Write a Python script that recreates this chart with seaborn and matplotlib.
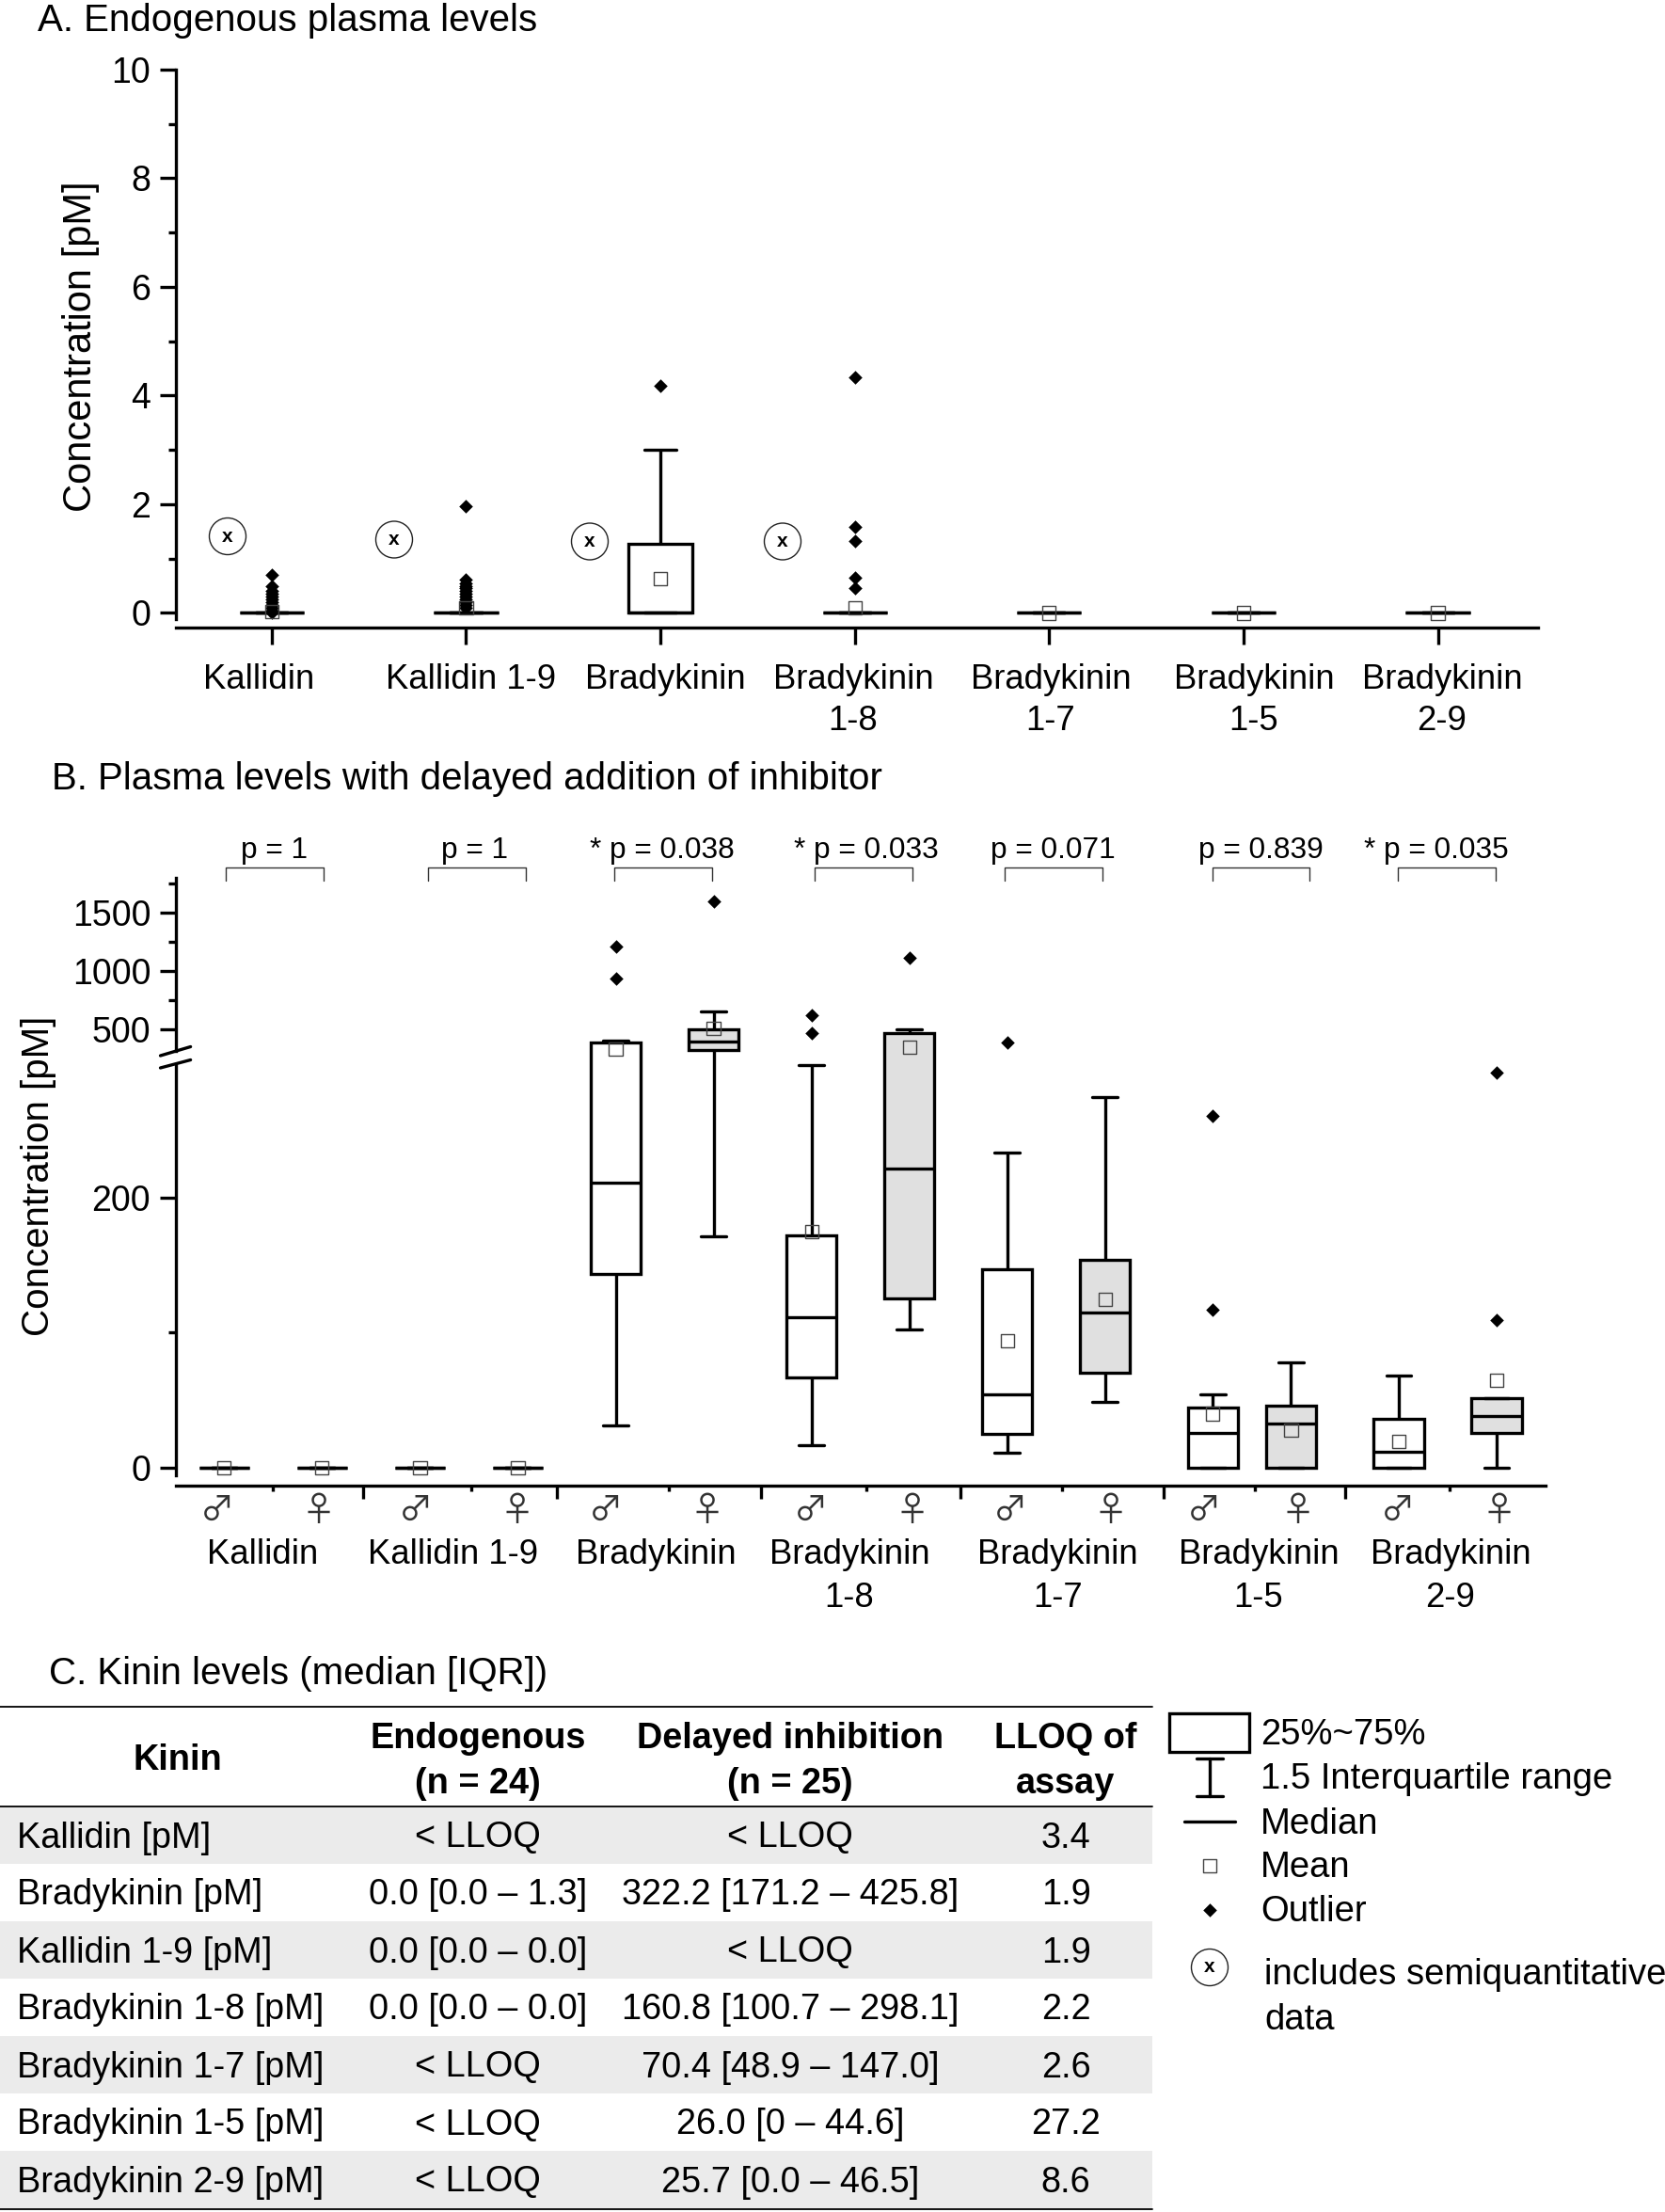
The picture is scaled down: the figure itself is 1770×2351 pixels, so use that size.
import pandas as pd
import matplotlib.pyplot as plt
from matplotlib.patches import Rectangle, Circle
import seaborn as sns

W, H = 1770, 2351

kinins = ['Kallidin', 'Kallidin 1-9', 'Bradykinin', 'Bradykinin\n1-8', 'Bradykinin\n1-7', 'Bradykinin\n1-5', 'Bradykinin\n2-9']

# panel A, five number summaries
a_low = [0, 0, 0, 0, 0, 0, 0]
a_q1 = [0, 0, 0, 0, 0, 0, 0]
a_med = [0, 0, 0, 0, 0, 0, 0]
a_q3 = [0, 0, 1.28, 0, 0, 0, 0]
a_high = [0, 0, 3.0, 0, 0, 0, 0]
a_mean = [0.03, 0.1, 0.63, 0.1, 0, 0, 0]
a_outliers = [
    [0.7, 0.5, 0.4, 0.35, 0.3, 0.25, 0.2, 0.15, 0.1, 0.05, 0],
    [1.97, 0.62, 0.55, 0.5, 0.45, 0.4, 0.35, 0.3, 0.25, 0.2, 0.15, 0.1],
    [4.18],
    [4.33, 1.58, 1.33, 0.65, 0.45],
    [], [], [],
]

# panel B, male / female pairs
b_sex = ['m', 'f'] * 7
b_pos = [0, 1, 2, 3, 4, 5, 6, 7, 8, 9, 10.1, 10.9, 12, 13]
b_low = [0, 0, 0, 0, 31, 171, 17, 102, 11, 49, 0, 0, 0, 0]
b_q1 = [0, 0, 0, 0, 143, 318, 66.5, 125.5, 25, 70, 0, 0, 0, 26]
b_med = [0, 0, 0, 0, 210.6, 391, 111.4, 221.5, 54, 115, 25.5, 33, 11.8, 38]
b_q3 = [0, 0, 0, 0, 386, 500, 172, 464, 147, 154, 44.7, 46, 36.5, 51.5]
b_high = [0, 0, 0, 0, 396, 649, 298, 500, 233, 274, 54.4, 78, 68, 51.5]
b_mean = [0, 0, 0, 0, 323, 504, 174.6, 342, 94, 124.7, 40, 28, 19.7, 64.7]
b_outliers = [
    [], [], [], [],
    [1208, 936], [1600],
    [617, 464], [1113],
    [386], [],
    [260.5, 117], [],
    [], [292, 109],
]
p_labels = ['p = 1', 'p = 1', '* p = 0.038', '* p = 0.033', 'p = 0.071', 'p = 0.839', '* p = 0.035']

# table
table_header = ['Kinin', 'Endogenous\n(n = 24)', 'Delayed inhibition\n(n = 25)', 'LLOQ of\nassay']
table_kinin = ['Kallidin [pM]', 'Bradykinin [pM]', 'Kallidin 1-9 [pM]', 'Bradykinin 1-8 [pM]',
               'Bradykinin 1-7 [pM]', 'Bradykinin 1-5 [pM]', 'Bradykinin 2-9 [pM]']
table_endo = ['< LLOQ', '0.0 [0.0 – 1.3]', '0.0 [0.0 – 0.0]', '0.0 [0.0 – 0.0]', '< LLOQ', '< LLOQ', '< LLOQ']
table_delayed = ['< LLOQ', '322.2 [171.2 – 425.8]', '< LLOQ', '160.8 [100.7 – 298.1]',
                 '70.4 [48.9 – 147.0]', '26.0 [0 – 44.6]', '25.7 [0.0 – 46.5]']
table_lloq = ['3.4', '1.9', '1.9', '2.2', '2.6', '27.2', '8.6']

LW = 2.4
BREAK = 303
sns.set_theme(style='ticks', rc={'text.color': 'black', 'axes.labelcolor': 'black', 'xtick.color': 'black',
                                 'ytick.color': 'black', 'axes.edgecolor': 'black', 'axes.linewidth': LW})
plt.rcParams['font.family'] = ['Liberation Sans', 'DejaVu Sans']


def axes_px(fig, left, right, top, bottom):
    return fig.add_axes([left / W, 1 - bottom / H, (right - left) / W, (bottom - top) / H])


def long_boxes(pos, low, q1, med, q3, high):
    rows = []
    for i, x in enumerate(pos):
        for v in (low[i], q1[i], med[i], q3[i], high[i]):
            rows.append({'pos': x, 'val': v})
    return pd.DataFrame(rows)


def long_outliers(pos, outliers):
    rows = []
    for x, vals in zip(pos, outliers):
        for v in vals:
            rows.append({'pos': x, 'val': v})
    return pd.DataFrame(rows)


def marks(ax, out_df, mean_df):
    sns.scatterplot(data=out_df, x='pos', y='val', marker='D', s=55,
                    color='black', linewidth=0, ax=ax, zorder=5, legend=False)
    sns.scatterplot(data=mean_df, x='pos', y='val', marker='s', s=105,
                    facecolor='none', edgecolor='#444444', linewidth=1.0, ax=ax, zorder=6, legend=False)


fig = plt.figure(figsize=(W / 100, H / 100), dpi=100)

# ---- panel A
ax_a = axes_px(fig, 186.6, 1635, 74, 667)
a_pos = list(range(7))
sns.boxplot(data=long_boxes(a_pos, a_low, a_q1, a_med, a_q3, a_high), x='pos', y='val', native_scale=True,
            color='white', saturation=1, linecolor='black', linewidth=LW, width=0.33,
            whis=(0, 100), showfliers=False, ax=ax_a)
marks(ax_a, long_outliers(a_pos, a_outliers), pd.DataFrame({'pos': a_pos, 'val': a_mean}))
ax_a.set_xlim(-0.495, 6.515)
ax_a.set_ylim(-0.27, 10)
ax_a.set_xticks(a_pos)
ax_a.set_xticklabels([])
ax_a.set_yticks([0, 2, 4, 6, 8, 10])
ax_a.set_yticks([1, 3, 5, 7, 9], minor=True)
ax_a.tick_params(axis='y', which='major', length=12, width=LW, labelsize=27, pad=7)
ax_a.tick_params(axis='y', which='minor', length=6, width=LW)
ax_a.tick_params(axis='x', which='major', length=13, width=LW)
ax_a.set_xlabel('')
ax_a.set_ylabel('Concentration [pM]', fontsize=30)
ax_a.yaxis.set_label_coords((106 - 186.6) / 1448.4, (667 - 368.6) / 593)
sns.despine(ax=ax_a)
ax_a.spines['left'].set_bounds(-0.11, 10)

# ---- panel B, broken y axis
ax_top = axes_px(fig, 186.6, 1643, 933, 1124)
ax_low = axes_px(fig, 186.6, 1643, 1124, 1579)
b_df = long_boxes(b_pos, b_low, b_q1, b_med, b_q3, b_high)
b_df['sex'] = [s for s in b_sex for _ in range(5)]
b_tall = [x for x, h in zip(b_pos, b_high) if h > BREAK]
b_out = long_outliers(b_pos, b_outliers)
b_avg = pd.DataFrame({'pos': b_pos, 'val': b_mean})
box_style = dict(x='pos', y='val', hue='sex', palette={'m': 'white', 'f': '#e0e0e0'}, native_scale=True,
                 dodge=False, saturation=1, linecolor='black', linewidth=LW, whis=(0, 100),
                 showfliers=False, legend=False)
sns.boxplot(data=b_df[b_df['pos'].isin(b_tall)], width=0.513, ax=ax_top, **box_style)
sns.boxplot(data=b_df, width=0.64, ax=ax_low, **box_style)
marks(ax_top, b_out[b_out['val'] > BREAK], b_avg[b_avg['val'] > BREAK])
marks(ax_low, b_out[b_out['val'] <= BREAK], b_avg[b_avg['val'] <= BREAK])
for ax in (ax_top, ax_low):
    ax.set_xlim(-0.497, 13.5)
    ax.set_xlabel('')
    ax.set_ylabel('')
    ax.patch.set_alpha(0)
    ax.tick_params(axis='y', which='major', length=12, width=LW, labelsize=27, pad=7)
    ax.tick_params(axis='y', which='minor', length=6, width=LW)

ax_top.set_ylim(253, 1800)
sns.despine(ax=ax_top, bottom=True)
ax_top.spines['left'].set_bounds(310, 1800)
ax_top.set_xticks([])
ax_top.set_yticks([500, 1000, 1500])
ax_top.set_yticks([750, 1250, 1750], minor=True)

ax_low.set_ylim(-13.2, BREAK + 0.3)
sns.despine(ax=ax_low)
ax_low.spines['left'].set_bounds(-5.6, 298)
ax_low.set_yticks([0, 200])
ax_low.set_yticks([100], minor=True)
ax_low.set_xticks([1.42, 3.4, 5.48, 7.52, 9.6, 11.45])
ax_low.set_xticks([0.5, 2.52, 4.54, 6.56, 8.56, 10.53, 12.52], minor=True)
ax_low.set_xticklabels([])
ax_low.tick_params(axis='x', which='major', length=10, width=LW)
ax_low.tick_params(axis='x', which='minor', length=4, width=LW)
ax_low.set_ylabel('Concentration [pM]', fontsize=29)
ax_low.yaxis.set_label_coords((60 - 186.6) / 1456.4, (1579 - 1250) / 455)

# ---- everything placed on the page: titles, labels, brackets, table, legend
ov = fig.add_axes([0, 0, 1, 1], zorder=10)
ov.set_xlim(0, W)
ov.set_ylim(H, 0)
ov.axis('off')
ov.patch.set_alpha(0)

ov.text(40, 22, 'A. Endogenous plasma levels', fontsize=29, va='center')
ov.text(55, 828, 'B. Plasma levels with delayed addition of inhibitor', fontsize=29, va='center')
ov.text(52, 1779, 'C. Kinin levels (median [IQR])', fontsize=29, va='center')

a_label_x = [275.5, 501, 707, 907, 1117, 1333, 1533]
b_label_x = [279, 482, 697, 903, 1124.6, 1338, 1542]
for name, xa, xb in zip(kinins, a_label_x, b_label_x):
    for y0, x0 in ((722, xa), (1653, xb)):
        for j, line in enumerate(name.split('\n')):
            ov.text(x0, y0 + j * 45, line, fontsize=26.3, ha='center', va='center')

# semiquantitative marks in panel A
circle_xy = [(242, 570), (419, 573.5), (627, 575.5), (832, 575.5)]
for cx, cy in circle_xy:
    ov.add_patch(Circle((cx, cy), 19.5, fill=False, ec='#222222', lw=1))
    ov.text(cx, cy, 'x', fontsize=15, fontweight='bold', ha='center', va='center')

# sex symbols under panel B
sex_x = [231, 339, 442, 550, 644, 752, 862, 970, 1073.5, 1181, 1280, 1379.5, 1486, 1594]
for s, x0 in zip(b_sex, sex_x):
    ov.text(x0, 1606, '♂' if s == 'm' else '♀', fontsize=26, color='#333333', ha='center', va='center',
            family=['Noto Sans CJK JP', 'DejaVu Sans'])

# p value brackets
bracket_x = [240, 455, 653, 866, 1068, 1288.6, 1486]
p_x = [291.6, 504.6, 704, 921, 1119.5, 1340, 1527]
for x0, px, lab in zip(bracket_x, p_x, p_labels):
    ov.plot([x0, x0, x0 + 103.6, x0 + 103.6], [936, 922, 922, 936], color='#333333', lw=1)
    ov.text(px, 904, lab, fontsize=22.8, ha='center', va='center')

# axis break
for y1, y2 in ((1122, 1112.5), (1135, 1126.5)):
    ov.plot([170.5, 202.6], [y1, y2], color='black', lw=LW)

# table
row_h = 61
col_x = [508, 840, 1133]
for i in range(len(table_kinin)):
    y0 = 1920 + i * row_h
    if i % 2 == 0:
        ov.add_patch(Rectangle((0, y0), 1225, row_h, fc='#ebebeb', ec='none'))
    yc = y0 + row_h / 2 + 3
    ov.text(18, yc, table_kinin[i], fontsize=27.3, va='center')
    ov.text(col_x[0], yc, table_endo[i], fontsize=27.3, ha='center', va='center')
    ov.text(col_x[1], yc, table_delayed[i], fontsize=27.3, ha='center', va='center')
    ov.text(col_x[2], yc, table_lloq[i], fontsize=27.3, ha='center', va='center')
for y0 in (1814, 1920, 2348):
    ov.plot([0, 1225], [y0, y0], color='black', lw=1.3)
for x0, head in zip([189] + col_x, table_header):
    lines = head.split('\n')
    ys = [1871] if len(lines) == 1 else [1848, 1896]
    for y0, line in zip(ys, lines):
        ov.text(x0, y0, line, fontsize=27.3, fontweight='bold', ha='center', va='center')

# legend
ov.add_patch(Rectangle((1243, 1821), 85, 41, fc='white', ec='black', lw=LW))
ov.plot([1286, 1286], [1869, 1909], color='black', lw=LW)
ov.plot([1272, 1300], [1869, 1869], color='black', lw=LW)
ov.plot([1272, 1300], [1909, 1909], color='black', lw=LW)
ov.plot([1259, 1313], [1936, 1936], color='black', lw=LW)
ov.scatter([1286], [1983], marker='s', s=105, facecolor='none', edgecolor='#444444', linewidth=1)
ov.scatter([1286], [2030], marker='D', s=55, color='black', linewidth=0)
ov.add_patch(Circle((1286, 2091), 19.5, fill=False, ec='#222222', lw=1))
ov.text(1286, 2091, 'x', fontsize=15, fontweight='bold', ha='center', va='center')
legend_text = [(1340, 1844, '25%~75%'), (1340, 1891, '1.5 Interquartile range'), (1340, 1939, 'Median'),
               (1340, 1985, 'Mean'), (1340, 2032, 'Outlier'), (1344, 2099, 'includes semiquantitative'),
               (1344, 2147, 'data')]
for x0, y0, lab in legend_text:
    ov.text(x0, y0, lab, fontsize=27.5, va='center')

fig.savefig('out.png', dpi=100, facecolor='white')
